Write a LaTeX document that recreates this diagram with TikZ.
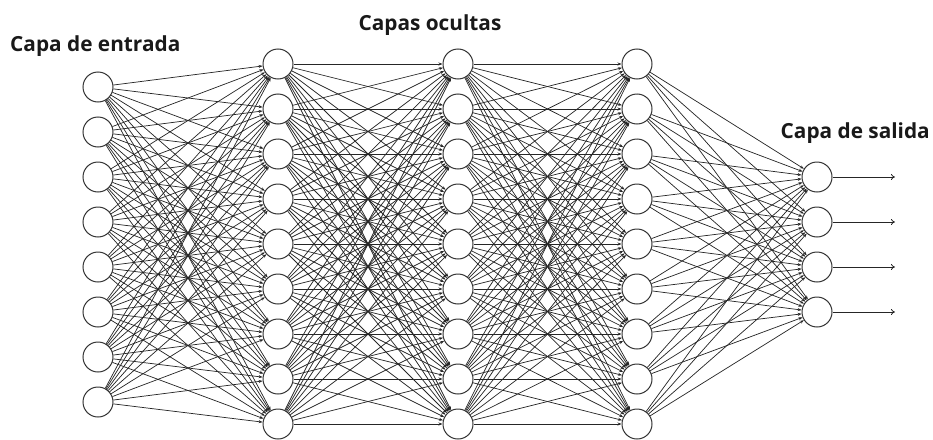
\documentclass[tikz,border=0pt]{standalone}
\usepackage{fontspec}
\setmainfont{Open Sans}
\usetikzlibrary{arrows.meta}
\begin{document}
\begin{tikzpicture}[x=1pt,y=-1pt,
  neuron/.style={circle,draw=black!80,line width=1pt,fill=white,minimum size=30pt,inner sep=0pt},
  edge/.style={draw=black!85,line width=0.72pt,-{Stealth[length=4pt,width=3pt]}},
  outedge/.style={draw=black!85,line width=0.8pt,-{To[length=4pt,width=6pt]}},
  lbl/.style={font=\bfseries\fontsize{20.8}{23}\selectfont,inner sep=0pt,text=black!90}]
\useasboundingbox (0,0) rectangle (933,439);
% node positions
\foreach \k in {1,...,8} \path (98,{87+45*(\k-1)}) coordinate (pi\k);
\foreach \k in {1,...,9} {
  \path (278,{64+45*(\k-1)}) coordinate (pa\k);
  \path (458,{64+45*(\k-1)}) coordinate (pb\k);
  \path (637,{64+45*(\k-1)}) coordinate (pc\k);
}
\foreach \k in {1,...,4} \path (817,{177+45*(\k-1)}) coordinate (po\k);
% nodes (named, used as connector ends)
\foreach \k in {1,...,8} \node[neuron] (i\k) at (pi\k) {};
\foreach \k in {1,...,9} {
  \node[neuron] (a\k) at (pa\k) {};
  \node[neuron] (b\k) at (pb\k) {};
  \node[neuron] (c\k) at (pc\k) {};
}
\foreach \k in {1,...,4} {
  \node[neuron] (o\k) at (po\k) {};
  \coordinate (e\k) at (895,{177+45*(\k-1)});
}
% connectors
\foreach \s in {1,...,8} \foreach \t in {1,...,9} \draw[edge] (i\s) -- (a\t);
\foreach \s in {1,...,9} \foreach \t in {1,...,9} {
  \draw[edge] (a\s) -- (b\t);
  \draw[edge] (b\s) -- (c\t);
}
\foreach \s in {1,...,9} \foreach \t in {1,...,4} \draw[edge] (c\s) -- (o\t);
\foreach \k in {1,...,4} \draw[outedge] (o\k) -- (e\k);
% labels
\node[lbl,anchor=base west] (lin) at (10,51) {Capa de entrada};
\node[lbl,anchor=base] (lhid) at (430,30) {Capas ocultas};
\node[lbl,anchor=base east] (lout) at (930,138) {Capa de salida};
\end{tikzpicture}
\end{document}
